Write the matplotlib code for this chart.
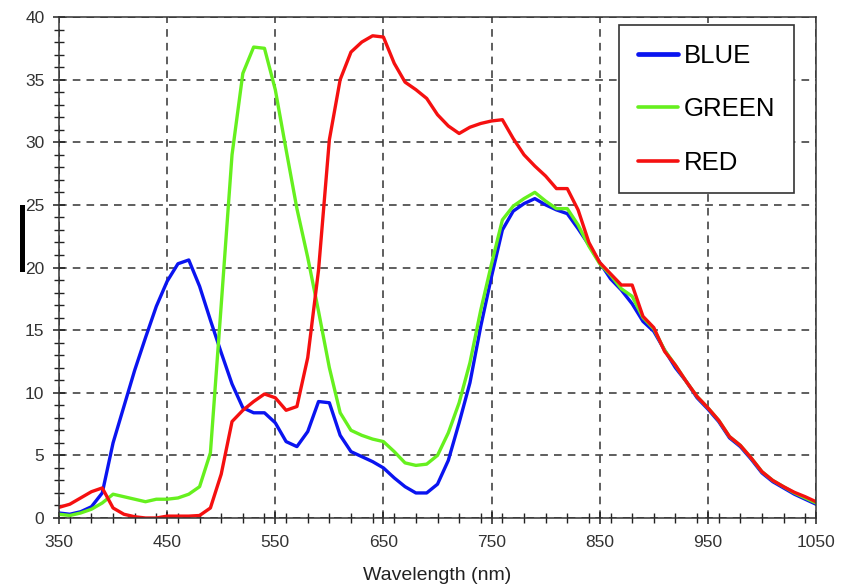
import matplotlib
matplotlib.use("Agg")
import matplotlib.pyplot as plt
from matplotlib.ticker import MultipleLocator
from matplotlib.patches import Rectangle

wavelength = list(range(350, 1051, 10))

blue = [0.4, 0.3, 0.5, 0.9, 2.0, 6.0, 8.9, 11.8, 14.4, 16.9,
        18.9, 20.3, 20.6, 18.5, 15.8, 13.2, 10.7, 8.8, 8.4, 8.4,
        7.6, 6.1, 5.7, 6.9, 9.3, 9.2, 6.6, 5.3, 4.9, 4.5,
        4.0, 3.2, 2.5, 2.0, 2.0, 2.7, 4.6, 7.6, 10.8, 15.3,
        19.3, 23.0, 24.5, 25.1, 25.5, 25.0, 24.6, 24.3, 23.1, 21.8,
        20.4, 19.1, 18.2, 17.1, 15.7, 14.9, 13.4, 12.0, 10.9, 9.6,
        8.7, 7.7, 6.4, 5.7, 4.7, 3.6, 2.9, 2.4, 1.9, 1.5, 1.1]

green = [0.3, 0.2, 0.4, 0.7, 1.2, 1.9, 1.7, 1.5, 1.3, 1.5,
         1.5, 1.6, 1.9, 2.5, 5.2, 17.0, 29.0, 35.5, 37.6, 37.5,
         34.2, 29.4, 24.7, 20.8, 16.5, 12.0, 8.4, 7.0, 6.6, 6.3,
         6.1, 5.3, 4.4, 4.2, 4.3, 5.0, 6.8, 9.2, 12.4, 16.6,
         20.3, 23.8, 24.9, 25.5, 26.0, 25.3, 24.7, 24.7, 23.4, 21.7,
         20.3, 19.4, 18.3, 17.7, 16.0, 15.1, 13.4, 12.2, 10.9, 9.7,
         8.8, 7.8, 6.5, 5.8, 4.8, 3.7, 3.0, 2.5, 2.0, 1.6, 1.2]

red = [0.85, 1.1, 1.6, 2.1, 2.4, 0.8, 0.3, 0.1, 0.0, 0.0,
       0.15, 0.15, 0.15, 0.2, 0.8, 3.5, 7.7, 8.6, 9.3, 9.9,
       9.6, 8.6, 8.9, 12.8, 19.8, 30.2, 35.0, 37.2, 38.0, 38.5,
       38.4, 36.3, 34.8, 34.2, 33.5, 32.2, 31.3, 30.7, 31.2, 31.5,
       31.7, 31.8, 30.3, 29.0, 28.1, 27.3, 26.3, 26.3, 24.6, 22.0,
       20.4, 19.5, 18.6, 18.6, 16.1, 15.2, 13.3, 12.2, 10.9, 9.7,
       8.8, 7.8, 6.5, 5.8, 4.8, 3.7, 3.0, 2.5, 2.05, 1.7, 1.3]

series_names = ["BLUE", "GREEN", "RED"]
series_colors = ["#0a14f0", "#66f01e", "#f51010"]
x_ticks = list(range(350, 1051, 100))
y_ticks = list(range(0, 41, 5))

FONT = ["Liberation Sans Narrow", "Liberation Sans", "DejaVu Sans"]
plt.rcParams["font.family"] = FONT

fig = plt.figure(figsize=(8.42, 5.88), dpi=100)
ax = fig.add_axes([59 / 842, 1 - 518 / 588, 757 / 842, 501 / 588])

for vals, name, col in zip([blue, green, red], series_names, series_colors):
    ax.plot(wavelength, vals, color=col, lw=2.4, label=name, solid_joinstyle="round")

ax.set_xlim(350, 1050)
ax.set_ylim(0, 40)
ax.set_xticks(x_ticks)
ax.set_yticks(y_ticks)
ax.xaxis.set_minor_locator(MultipleLocator(20))
ax.yaxis.set_minor_locator(MultipleLocator(1))
ax.tick_params(which="major", direction="inout", length=9, width=1.1, color="#222222",
               labelsize=12.5, labelcolor="#333333")
ax.tick_params(which="minor", direction="inout", length=7, width=1.0, color="#222222")
ax.tick_params(axis="x", pad=8)
ax.tick_params(axis="y", pad=6)

ax.grid(True, which="major", linestyle=(0, (5, 4)), color="#333333", lw=1.1)
for s in ax.spines.values():
    s.set_color("#333333")
    s.set_linewidth(1.1)

ax.set_xlabel("Wavelength (nm)", fontsize=14, color="#222222", labelpad=12)

leg = ax.legend(loc="upper left", bbox_to_anchor=(0.740, 0.984, 0.231, 0.0),
                mode="expand", fontsize=18.5,
                frameon=True, fancybox=False, shadow=False, framealpha=1,
                edgecolor="#333333", handlelength=1.55, handletextpad=0.25,
                labelspacing=1.15, borderpad=0.72, borderaxespad=0)
leg.get_frame().set_linewidth(1.2)
for i, ln in enumerate(leg.get_lines()):
    ln.set_linewidth(3.4 if i == 0 else 2.6)
    ln.set_solid_capstyle("round")

fig.add_artist(Rectangle((20 / 842, 1 - 272 / 588), 5 / 842, 67 / 588,
                         transform=fig.transFigure, color="black", lw=0))

fig.savefig("out.png", dpi=100)
